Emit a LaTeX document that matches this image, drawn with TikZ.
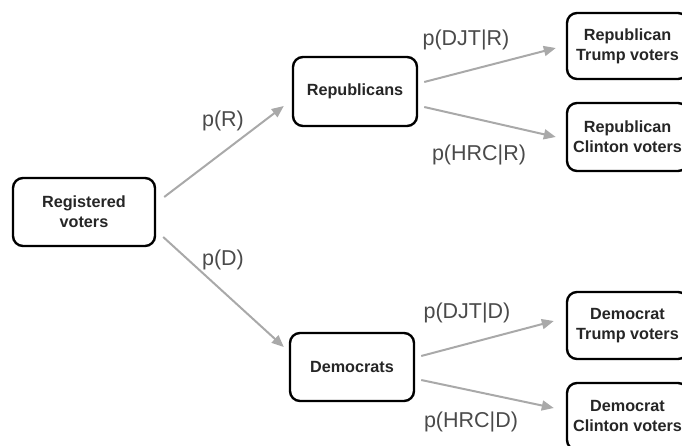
\documentclass[tikz,border=0pt]{standalone}
\usepackage{fontspec}
\setmainfont{Liberation Sans}
\usetikzlibrary{arrows.meta}
\definecolor{arrowgray}{HTML}{A9A9A9}
\definecolor{labelgray}{HTML}{4A4A4A}
\begin{document}
\begin{tikzpicture}[x=1pt,y=-1pt,
  box/.style={draw=black, line width=2.4pt, rounded corners=10pt, fill=white,
    align=center, inner sep=0pt, font=\fontsize{16.2}{20}\selectfont\bfseries,
    text=black!85},
  arr/.style={draw=arrowgray, line width=2pt,
    -{Triangle[length=12pt,width=10pt]}},
  prob/.style={text=labelgray, font=\fontsize{21.5}{24}\selectfont, inner sep=0pt}
]
\clip (0,0) rectangle (682,446);
\useasboundingbox (0,0) rectangle (682,446);

% tree of groups
\node[box, minimum width=142pt, minimum height=68pt] (reg) at (84,212) {Registered\\voters};
\node[box, minimum width=124pt, minimum height=69pt] (rep) at (355,91.5) {Republicans};
\node[box, minimum width=124pt, minimum height=68pt] (dem) at (352,367) {Democrats};
\node[box, minimum width=121pt, minimum height=66pt] (rt) at (627.5,46) {Republican\\Trump voters};
\node[box, minimum width=121pt, minimum height=68pt] (rc) at (627.5,137) {Republican\\Clinton voters};
\node[box, minimum width=121pt, minimum height=67pt] (dt) at (627.5,325.5) {Democrat\\Trump voters};
\node[box, minimum width=121pt, minimum height=67pt] (dc) at (627.5,416.5) {Democrat\\Clinton voters};

% branches
\draw[arr] ([shift={(8,-15)}]reg.east) -- ([shift={(-8,14.5)}]rep.west);
\draw[arr] ([shift={(7,25)}]reg.east) -- ([shift={(-5,-20)}]dem.west);
\draw[arr] ([shift={(6,-9.5)}]rep.east) -- ([shift={(-10,2)}]rt.west);
\draw[arr] ([shift={(6,15.5)}]rep.east) -- ([shift={(-10,0)}]rc.west);
\draw[arr] ([shift={(6,-11)}]dem.east) -- ([shift={(-12,-4.5)}]dt.west);
\draw[arr] ([shift={(6,13)}]dem.east) -- ([shift={(-12,-8.5)}]dc.west);

% branch probabilities
\node[prob] (pR) at (223,121) {p(R)};
\node[prob] (pD) at (223,260) {p(D)};
\node[prob] (pDJTR) at (466,40) {p(DJT|R)};
\node[prob] (pHRCR) at (479,155) {p(HRC|R)};
\node[prob] (pDJTD) at (467,313) {p(DJT|D)};
\node[prob] (pHRCD) at (471,422) {p(HRC|D)};
\end{tikzpicture}
\end{document}
